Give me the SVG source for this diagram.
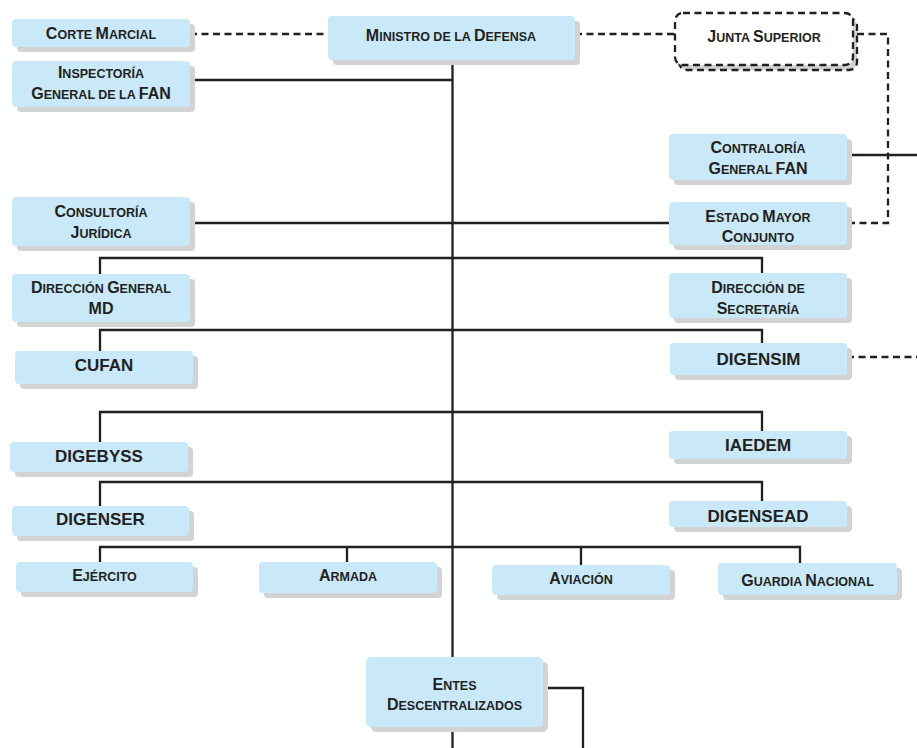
<svg xmlns="http://www.w3.org/2000/svg" width="917" height="748" viewBox="0 0 917 748">
<defs>
<style>
.bx{fill:#c9e9f9}
.sh{fill:#d1d3d4}
.t{font-family:"Liberation Sans",Arial,sans-serif;font-weight:bold;fill:#231f20;text-anchor:middle}
.B{font-size:16px}
.S{font-size:12.5px}
.P{font-size:17px}
.ln{fill:none;stroke:#231f20;stroke-width:2.3}
.ds{fill:none;stroke:#231f20;stroke-width:2.3;stroke-dasharray:7 4.5}
</style>
</defs>
<rect width="917" height="748" fill="#ffffff"/>

<g id="connectors">
<path class="ds" d="M190 34H328"/>
<path class="ds" d="M575 34H675"/>
<path class="ds" d="M857 34H888V223H847"/>
<path class="ds" d="M847 357H917"/>
<path class="ln" d="M452.5 60V657M452.5 727V748"/>
<path class="ln" d="M190 80H452.5"/>
<path class="ln" d="M847 155H917"/>
<path class="ln" d="M190 223H669"/>
<path class="ln" d="M100 274V258H762V273"/>
<path class="ln" d="M100 351V330H762V343"/>
<path class="ln" d="M100 442V412H762V431"/>
<path class="ln" d="M100 506V482H762V501"/>
<path class="ln" d="M100 562V547H800V563M347 547V562M581 547V565"/>
<path class="ln" d="M543 688H583V748"/>
</g>

<g id="corte">
<rect class="sh" x="17" y="24" width="178" height="28" rx="4"/>
<rect class="bx" x="12" y="19" width="178" height="28" rx="4"/>
<text class="t" x="101" y="38.5"><tspan class="B">C</tspan><tspan class="S">ORTE </tspan><tspan class="B">M</tspan><tspan class="S">ARCIAL</tspan></text>
</g>

<g id="ministro">
<rect class="sh" x="333" y="21" width="247" height="44" rx="4"/>
<rect class="bx" x="328" y="16" width="247" height="44" rx="4"/>
<text class="t" x="451" y="41"><tspan class="B">M</tspan><tspan class="S">INISTRO DE LA </tspan><tspan class="B">D</tspan><tspan class="S">EFENSA</tspan></text>
</g>

<g id="junta">
<rect class="ds" x="679" y="18" width="178" height="52" rx="8" style="fill:#d1d3d4"/>
<rect class="ds" x="675" y="13" width="178" height="52" rx="8" style="fill:#ffffff"/>
<text class="t" x="764" y="41.5"><tspan class="B">J</tspan><tspan class="S">UNTA </tspan><tspan class="B">S</tspan><tspan class="S">UPERIOR</tspan></text>
</g>

<g id="inspectoria">
<rect class="sh" x="17" y="66" width="178" height="46" rx="4"/>
<rect class="bx" x="12" y="61" width="178" height="46" rx="4"/>
<text class="t" x="101" y="78"><tspan class="B">I</tspan><tspan class="S">NSPECTORÍA</tspan></text>
<text class="t" x="101" y="99"><tspan class="B">G</tspan><tspan class="S">ENERAL DE LA </tspan><tspan class="B">FAN</tspan></text>
</g>

<g id="contraloria">
<rect class="sh" x="674" y="139" width="178" height="46" rx="4"/>
<rect class="bx" x="669" y="134" width="178" height="46" rx="4"/>
<text class="t" x="758" y="152.5"><tspan class="B">C</tspan><tspan class="S">ONTRALORÍA</tspan></text>
<text class="t" x="758" y="173.5"><tspan class="B">G</tspan><tspan class="S">ENERAL </tspan><tspan class="B">FAN</tspan></text>
</g>

<g id="consultoria">
<rect class="sh" x="17" y="202" width="178" height="49" rx="4"/>
<rect class="bx" x="12" y="197" width="178" height="49" rx="4"/>
<text class="t" x="101" y="217"><tspan class="B">C</tspan><tspan class="S">ONSULTORÍA</tspan></text>
<text class="t" x="101" y="238"><tspan class="B">J</tspan><tspan class="S">URÍDICA</tspan></text>
</g>

<g id="estado">
<rect class="sh" x="674" y="207" width="178" height="43" rx="4"/>
<rect class="bx" x="669" y="202" width="178" height="43" rx="4"/>
<text class="t" x="758" y="221.5"><tspan class="B">E</tspan><tspan class="S">STADO </tspan><tspan class="B">M</tspan><tspan class="S">AYOR</tspan></text>
<text class="t" x="758" y="241.5"><tspan class="B">C</tspan><tspan class="S">ONJUNTO</tspan></text>
</g>

<g id="direccion-general">
<rect class="sh" x="17" y="279" width="178" height="48" rx="4"/>
<rect class="bx" x="12" y="274" width="178" height="48" rx="4"/>
<text class="t" x="101" y="293"><tspan class="B">D</tspan><tspan class="S">IRECCIÓN </tspan><tspan class="B">G</tspan><tspan class="S">ENERAL</tspan></text>
<text class="t" x="101" y="314"><tspan class="B">MD</tspan></text>
</g>

<g id="direccion-secretaria">
<rect class="sh" x="674" y="278" width="178" height="45" rx="4"/>
<rect class="bx" x="669" y="273" width="178" height="45" rx="4"/>
<text class="t" x="758" y="292.5"><tspan class="B">D</tspan><tspan class="S">IRECCIÓN DE</tspan></text>
<text class="t" x="758" y="313.5"><tspan class="B">S</tspan><tspan class="S">ECRETARÍA</tspan></text>
</g>

<g id="cufan">
<rect class="sh" x="20" y="356" width="178" height="33" rx="4"/>
<rect class="bx" x="15" y="351" width="178" height="33" rx="4"/>
<text class="t P" x="104" y="371">CUFAN</text>
</g>

<g id="digensim">
<rect class="sh" x="675" y="348" width="177" height="32" rx="4"/>
<rect class="bx" x="670" y="343" width="177" height="32" rx="4"/>
<text class="t P" x="758.5" y="365">DIGENSIM</text>
</g>

<g id="digebyss">
<rect class="sh" x="15" y="447" width="178" height="30" rx="4"/>
<rect class="bx" x="10" y="442" width="178" height="30" rx="4"/>
<text class="t P" x="99" y="462">DIGEBYSS</text>
</g>

<g id="iaedem">
<rect class="sh" x="674" y="436" width="178" height="28" rx="4"/>
<rect class="bx" x="669" y="431" width="178" height="28" rx="4"/>
<text class="t P" x="758" y="451">IAEDEM</text>
</g>

<g id="digenser">
<rect class="sh" x="17" y="511" width="177" height="30" rx="4"/>
<rect class="bx" x="12" y="506" width="177" height="30" rx="4"/>
<text class="t P" x="100.5" y="525">DIGENSER</text>
</g>

<g id="digensead">
<rect class="sh" x="674" y="506" width="178" height="26" rx="4"/>
<rect class="bx" x="669" y="501" width="178" height="26" rx="4"/>
<text class="t P" x="758" y="521.5">DIGENSEAD</text>
</g>

<g id="ejercito">
<rect class="sh" x="21" y="567" width="177" height="30" rx="4"/>
<rect class="bx" x="16" y="562" width="177" height="30" rx="4"/>
<text class="t" x="104.5" y="581"><tspan class="B">E</tspan><tspan class="S">JÉRCITO</tspan></text>
</g>

<g id="armada">
<rect class="sh" x="264" y="567" width="178" height="31" rx="4"/>
<rect class="bx" x="259" y="562" width="178" height="31" rx="4"/>
<text class="t" x="348" y="581"><tspan class="B">A</tspan><tspan class="S">RMADA</tspan></text>
</g>

<g id="aviacion">
<rect class="sh" x="497" y="570" width="178" height="30" rx="4"/>
<rect class="bx" x="492" y="565" width="178" height="30" rx="4"/>
<text class="t" x="581" y="584"><tspan class="B">A</tspan><tspan class="S">VIACIÓN</tspan></text>
</g>

<g id="guardia">
<rect class="sh" x="723" y="568" width="179" height="32" rx="4"/>
<rect class="bx" x="718" y="563" width="179" height="32" rx="4"/>
<text class="t" x="807.5" y="586"><tspan class="B">G</tspan><tspan class="S">UARDIA </tspan><tspan class="B">N</tspan><tspan class="S">ACIONAL</tspan></text>
</g>

<g id="entes">
<rect class="sh" x="371" y="662" width="177" height="70" rx="5"/>
<rect class="bx" x="366" y="657" width="177" height="70" rx="5"/>
<text class="t" x="454.5" y="689.5"><tspan class="B">E</tspan><tspan class="S">NTES</tspan></text>
<text class="t" x="454.5" y="710"><tspan class="B">D</tspan><tspan class="S">ESCENTRALIZADOS</tspan></text>
</g>
</svg>
